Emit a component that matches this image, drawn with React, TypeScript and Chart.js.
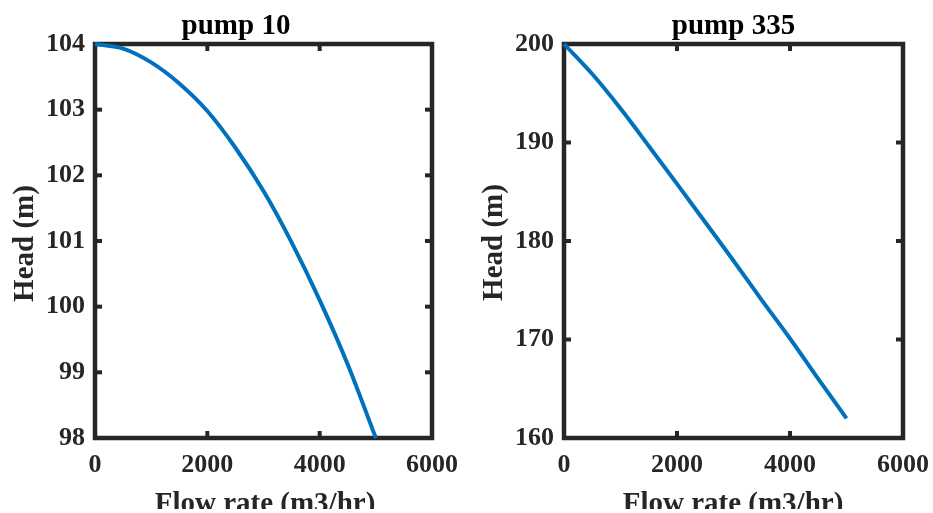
import React, { useEffect, useRef } from "react";
import { Chart, registerables } from "chart.js";

Chart.register(...registerables);

// ---- data ----
const flowRates = [0, 500, 1000, 1500, 2000, 2500, 3000, 3500, 4000, 4500, 5000];
const pump10Head = [104.0, 103.93, 103.72, 103.4, 102.98, 102.42, 101.76, 100.98, 100.1, 99.12, 98.0];
const pump335Head = [200.0, 196.95, 193.45, 189.65, 185.8, 181.9, 178.0, 174.0, 170.1, 166.0, 162.0];
const xTickValues = [0, 2000, 4000, 6000];
const pump10YTicks = [98, 99, 100, 101, 102, 103, 104];
const pump335YTicks = [160, 170, 180, 190, 200];
const xAxisLabel = "Flow rate (m3/hr)";
const yAxisLabel = "Head (m)";

const FRAME = "#262626";
const LINE = "#0072BD";
const FONT = '"Liberation Serif", "Times New Roman", serif';
const H = 513;

type Panel = {
  title: string;
  heads: number[];
  yTicks: number[];
  left: number;
  width: number;
  plotLeft: number;
  plotRight: number;
  plotTop: number;
  plotBottom: number;
  titleX: number;
  xLabelX: number;
  yLabelX: number;
  yLabelY: number;
};

const panels: Panel[] = [
  {
    title: "pump 10",
    heads: pump10Head,
    yTicks: pump10YTicks,
    left: 0,
    width: 466,
    plotLeft: 95,
    plotRight: 432,
    plotTop: 44,
    plotBottom: 438,
    titleX: 236,
    xLabelX: 265,
    yLabelX: 33,
    yLabelY: 243.5,
  },
  {
    title: "pump 335",
    heads: pump335Head,
    yTicks: pump335YTicks,
    left: 466,
    width: 467,
    plotLeft: 98,
    plotRight: 437,
    plotTop: 44,
    plotBottom: 438,
    titleX: 267.5,
    xLabelX: 267,
    yLabelX: 36,
    yLabelY: 242.5,
  },
];

function makePlugin(p: Panel) {
  return {
    id: "matlabFrame",
    beforeDatasetsDraw(chart: any) {
      const { ctx, chartArea: a, scales } = chart;
      ctx.save();
      ctx.strokeStyle = FRAME;
      ctx.lineWidth = 4.5;
      ctx.strokeRect(a.left, a.top, a.right - a.left, a.bottom - a.top);
      ctx.lineWidth = 4;
      const tl = 7;
      const seg = (x1: number, y1: number, x2: number, y2: number) => {
        ctx.beginPath();
        ctx.moveTo(x1, y1);
        ctx.lineTo(x2, y2);
        ctx.stroke();
      };
      scales.x.ticks.forEach((t: any) => {
        const px = scales.x.getPixelForValue(t.value);
        if (px <= a.left + 1 || px >= a.right - 1) return;
        seg(px, a.bottom, px, a.bottom - tl);
        seg(px, a.top, px, a.top + tl);
      });
      scales.y.ticks.forEach((t: any) => {
        const py = scales.y.getPixelForValue(t.value);
        if (py <= a.top + 1 || py >= a.bottom - 1) return;
        seg(a.left, py, a.left + tl, py);
        seg(a.right, py, a.right - tl, py);
      });
      ctx.restore();
    },
    afterDraw(chart: any) {
      const { ctx } = chart;
      ctx.save();
      ctx.fillStyle = "#000000";
      ctx.font = `bold 29px ${FONT}`;
      ctx.textAlign = "center";
      ctx.textBaseline = "alphabetic";
      // title
      ctx.fillText(p.title, p.titleX, 34);
      // x axis label (cut at the bottom like the reference)
      ctx.save();
      ctx.beginPath();
      ctx.rect(0, 470, p.width, 39);
      ctx.clip();
      ctx.fillStyle = FRAME;
      ctx.fillText(xAxisLabel, p.xLabelX, 512);
      ctx.restore();
      // y axis label
      ctx.fillStyle = FRAME;
      ctx.translate(p.yLabelX, p.yLabelY);
      ctx.rotate(-Math.PI / 2);
      ctx.fillText(yAxisLabel, 0, 0);
      ctx.restore();
    },
  };
}

function PanelChart({ p }: { p: Panel }) {
  const ref = useRef<HTMLCanvasElement | null>(null);
  useEffect(() => {
    if (!ref.current) return;
    const chart = new Chart(ref.current, {
      type: "line",
      data: {
        datasets: [
          {
            data: flowRates.map((q, i) => ({ x: q, y: p.heads[i] })),
            borderColor: LINE,
            borderWidth: 4,
            pointRadius: 0,
            fill: false,
            cubicInterpolationMode: "monotone",
            clip: false as any,
          },
        ],
      },
      options: {
        responsive: false,
        animation: false,
        devicePixelRatio: 1,
        layout: {
          padding: { left: 0, top: p.plotTop, right: p.width - p.plotRight, bottom: 0 },
        },
        plugins: {
          legend: { display: false },
          title: { display: false },
          tooltip: { enabled: false },
        },
        scales: {
          x: {
            type: "linear",
            min: xTickValues[0],
            max: xTickValues[xTickValues.length - 1],
            grid: { display: false, drawTicks: false },
            border: { display: false },
            afterBuildTicks: (s: any) => {
              s.ticks = xTickValues.map((v) => ({ value: v }));
            },
            afterFit: (s: any) => {
              s.height = H - p.plotBottom;
              s.paddingLeft = 0;
              s.paddingRight = 0;
              s.paddingTop = 0;
              s.paddingBottom = 0;
            },
            ticks: {
              padding: 12,
              maxRotation: 0,
              autoSkip: false,
              color: FRAME,
              font: { family: FONT, size: 26, weight: "bold" },
              callback: (v: any) => String(v),
            },
          },
          y: {
            type: "linear",
            min: p.yTicks[0],
            max: p.yTicks[p.yTicks.length - 1],
            grid: { display: false, drawTicks: false },
            border: { display: false },
            afterBuildTicks: (s: any) => {
              s.ticks = p.yTicks.map((v) => ({ value: v }));
            },
            afterFit: (s: any) => {
              s.width = p.plotLeft;
              s.paddingLeft = 0;
              s.paddingRight = 0;
              s.paddingTop = 0;
              s.paddingBottom = 0;
            },
            ticks: {
              padding: 10,
              autoSkip: false,
              color: FRAME,
              font: { family: FONT, size: 26, weight: "bold" },
              callback: (v: any) => String(v),
            },
          },
        },
      } as any,
      plugins: [makePlugin(p)],
    });
    return () => chart.destroy();
  }, [p]);
  return (
    <canvas
      ref={ref}
      width={p.width}
      height={H}
      style={{ position: "absolute", left: p.left, top: 0, width: p.width, height: H, display: "block" }}
    />
  );
}

export default function App() {
  return (
    <div
      style={{
        position: "absolute",
        left: 0,
        top: 0,
        width: 933,
        height: H,
        background: "#ffffff",
        overflow: "hidden",
      }}
    >
      {panels.map((p) => (
        <PanelChart key={p.title} p={p} />
      ))}
    </div>
  );
}
